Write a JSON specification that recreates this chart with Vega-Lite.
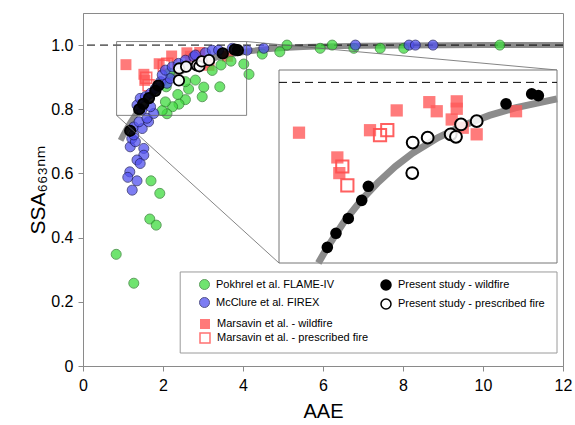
{
"$schema": "https://vega.github.io/schema/vega-lite/v6.json",
"width": 480,
"height": 353,
"autosize": {"type": "none"},
"padding": {"left": 83, "top": 13, "right": 12, "bottom": 59},
"background": "white",
"config": {
  "font": "Liberation Sans",
  "view": {"stroke": "#8a8a8a", "strokeWidth": 1},
  "axis": {"domainColor": "#8a8a8a", "tickColor": "#8a8a8a", "tickSize": 5, "labelColor": "black", "titleColor": "black", "labelFont": "Liberation Sans", "titleFont": "Liberation Sans, DejaVu Sans", "labelFontSize": 16, "titleFontSize": 20, "titleFontWeight": "normal", "grid": false, "labelFlush": false, "labelOverlap": false}
},
"datasets": {
  "pts": [
    {"src":"Pokhrel et al. FLAME-IV","aae":5.10,"ssa":1.0},
    {"src":"Pokhrel et al. FLAME-IV","aae":5.93,"ssa":0.99},
    {"src":"Pokhrel et al. FLAME-IV","aae":6.23,"ssa":1.0},
    {"src":"Pokhrel et al. FLAME-IV","aae":6.77,"ssa":0.99},
    {"src":"Pokhrel et al. FLAME-IV","aae":7.43,"ssa":0.99},
    {"src":"Pokhrel et al. FLAME-IV","aae":8.02,"ssa":0.99},
    {"src":"Pokhrel et al. FLAME-IV","aae":10.42,"ssa":1.0},
    {"src":"Pokhrel et al. FLAME-IV","aae":4.92,"ssa":0.979},
    {"src":"Pokhrel et al. FLAME-IV","aae":4.48,"ssa":0.972},
    {"src":"Pokhrel et al. FLAME-IV","aae":4.02,"ssa":0.941},
    {"src":"Pokhrel et al. FLAME-IV","aae":4.15,"ssa":0.909},
    {"src":"Pokhrel et al. FLAME-IV","aae":3.70,"ssa":0.950},
    {"src":"Pokhrel et al. FLAME-IV","aae":3.45,"ssa":0.938},
    {"src":"Pokhrel et al. FLAME-IV","aae":3.23,"ssa":0.921},
    {"src":"Pokhrel et al. FLAME-IV","aae":3.42,"ssa":0.870},
    {"src":"Pokhrel et al. FLAME-IV","aae":3.02,"ssa":0.869},
    {"src":"Pokhrel et al. FLAME-IV","aae":2.98,"ssa":0.839},
    {"src":"Pokhrel et al. FLAME-IV","aae":2.81,"ssa":0.891},
    {"src":"Pokhrel et al. FLAME-IV","aae":2.64,"ssa":0.863},
    {"src":"Pokhrel et al. FLAME-IV","aae":2.56,"ssa":0.830},
    {"src":"Pokhrel et al. FLAME-IV","aae":2.56,"ssa":0.886},
    {"src":"Pokhrel et al. FLAME-IV","aae":2.37,"ssa":0.846},
    {"src":"Pokhrel et al. FLAME-IV","aae":2.40,"ssa":0.816},
    {"src":"Pokhrel et al. FLAME-IV","aae":2.24,"ssa":0.808},
    {"src":"Pokhrel et al. FLAME-IV","aae":2.10,"ssa":0.786},
    {"src":"Pokhrel et al. FLAME-IV","aae":1.98,"ssa":0.796},
    {"src":"Pokhrel et al. FLAME-IV","aae":2.06,"ssa":0.823},
    {"src":"Pokhrel et al. FLAME-IV","aae":2.16,"ssa":0.913},
    {"src":"Pokhrel et al. FLAME-IV","aae":2.08,"ssa":0.870},
    {"src":"Pokhrel et al. FLAME-IV","aae":1.70,"ssa":0.577},
    {"src":"Pokhrel et al. FLAME-IV","aae":1.92,"ssa":0.538},
    {"src":"Pokhrel et al. FLAME-IV","aae":1.67,"ssa":0.458},
    {"src":"Pokhrel et al. FLAME-IV","aae":1.83,"ssa":0.439},
    {"src":"Pokhrel et al. FLAME-IV","aae":0.83,"ssa":0.348},
    {"src":"Pokhrel et al. FLAME-IV","aae":1.27,"ssa":0.258},
    {"src":"McClure et al. FIREX","aae":1.18,"ssa":0.683},
    {"src":"McClure et al. FIREX","aae":1.52,"ssa":0.678},
    {"src":"McClure et al. FIREX","aae":1.52,"ssa":0.657},
    {"src":"McClure et al. FIREX","aae":1.35,"ssa":0.642},
    {"src":"McClure et al. FIREX","aae":1.43,"ssa":0.631},
    {"src":"McClure et al. FIREX","aae":1.17,"ssa":0.605},
    {"src":"McClure et al. FIREX","aae":1.12,"ssa":0.588},
    {"src":"McClure et al. FIREX","aae":1.35,"ssa":0.577},
    {"src":"McClure et al. FIREX","aae":1.23,"ssa":0.548},
    {"src":"McClure et al. FIREX","aae":1.22,"ssa":0.709},
    {"src":"McClure et al. FIREX","aae":1.31,"ssa":0.699},
    {"src":"McClure et al. FIREX","aae":1.27,"ssa":0.720},
    {"src":"McClure et al. FIREX","aae":1.27,"ssa":0.745},
    {"src":"McClure et al. FIREX","aae":1.48,"ssa":0.740},
    {"src":"McClure et al. FIREX","aae":1.40,"ssa":0.761},
    {"src":"McClure et al. FIREX","aae":1.64,"ssa":0.761},
    {"src":"McClure et al. FIREX","aae":1.60,"ssa":0.772},
    {"src":"McClure et al. FIREX","aae":1.77,"ssa":0.787},
    {"src":"McClure et al. FIREX","aae":1.47,"ssa":0.798},
    {"src":"McClure et al. FIREX","aae":1.69,"ssa":0.808},
    {"src":"McClure et al. FIREX","aae":1.35,"ssa":0.813},
    {"src":"McClure et al. FIREX","aae":1.43,"ssa":0.834},
    {"src":"McClure et al. FIREX","aae":1.56,"ssa":0.839},
    {"src":"McClure et al. FIREX","aae":1.69,"ssa":0.850},
    {"src":"McClure et al. FIREX","aae":1.81,"ssa":0.865},
    {"src":"McClure et al. FIREX","aae":1.94,"ssa":0.886},
    {"src":"McClure et al. FIREX","aae":2.10,"ssa":0.881},
    {"src":"McClure et al. FIREX","aae":2.18,"ssa":0.896},
    {"src":"McClure et al. FIREX","aae":1.98,"ssa":0.907},
    {"src":"McClure et al. FIREX","aae":2.06,"ssa":0.922},
    {"src":"McClure et al. FIREX","aae":2.23,"ssa":0.932},
    {"src":"McClure et al. FIREX","aae":2.39,"ssa":0.943},
    {"src":"McClure et al. FIREX","aae":2.56,"ssa":0.953},
    {"src":"McClure et al. FIREX","aae":2.77,"ssa":0.964},
    {"src":"McClure et al. FIREX","aae":2.81,"ssa":0.969},
    {"src":"McClure et al. FIREX","aae":3.06,"ssa":0.976},
    {"src":"McClure et al. FIREX","aae":3.23,"ssa":0.984},
    {"src":"McClure et al. FIREX","aae":3.39,"ssa":0.984},
    {"src":"McClure et al. FIREX","aae":3.73,"ssa":0.990},
    {"src":"McClure et al. FIREX","aae":4.10,"ssa":0.984},
    {"src":"McClure et al. FIREX","aae":4.52,"ssa":0.990},
    {"src":"McClure et al. FIREX","aae":6.81,"ssa":1.0},
    {"src":"McClure et al. FIREX","aae":8.15,"ssa":1.0},
    {"src":"McClure et al. FIREX","aae":8.31,"ssa":1.0},
    {"src":"McClure et al. FIREX","aae":8.75,"ssa":1.0},
    {"src":"Marsavin et al. - wildfire","aae":1.074,"ssa":0.939},
    {"src":"Marsavin et al. - wildfire","aae":2.216,"ssa":0.966},
    {"src":"Marsavin et al. - wildfire","aae":2.597,"ssa":0.976},
    {"src":"Marsavin et al. - wildfire","aae":2.684,"ssa":0.965},
    {"src":"Marsavin et al. - wildfire","aae":2.918,"ssa":0.977},
    {"src":"Marsavin et al. - wildfire","aae":2.918,"ssa":0.968},
    {"src":"Marsavin et al. - wildfire","aae":2.859,"ssa":0.955},
    {"src":"Marsavin et al. - wildfire","aae":2.988,"ssa":0.945},
    {"src":"Marsavin et al. - wildfire","aae":3.151,"ssa":0.937},
    {"src":"Marsavin et al. - wildfire","aae":3.611,"ssa":0.965},
    {"src":"Marsavin et al. - wildfire","aae":1.904,"ssa":0.942},
    {"src":"Marsavin et al. - wildfire","aae":1.522,"ssa":0.909},
    {"src":"Marsavin et al. - wildfire","aae":1.545,"ssa":0.890},
    {"src":"Marsavin et al. - prescribed fire","aae":2.106,"ssa":0.942},
    {"src":"Marsavin et al. - prescribed fire","aae":2.021,"ssa":0.936},
    {"src":"Marsavin et al. - prescribed fire","aae":1.580,"ssa":0.898},
    {"src":"Marsavin et al. - prescribed fire","aae":1.639,"ssa":0.875},
    {"src":"Present study - wildfire","aae":1.18,"ssa":0.733},
    {"src":"Present study - wildfire","aae":1.405,"ssa":0.800},
    {"src":"Present study - wildfire","aae":1.506,"ssa":0.817},
    {"src":"Present study - wildfire","aae":1.650,"ssa":0.835},
    {"src":"Present study - wildfire","aae":1.807,"ssa":0.857},
    {"src":"Present study - wildfire","aae":1.884,"ssa":0.874},
    {"src":"Present study - wildfire","aae":3.494,"ssa":0.974},
    {"src":"Present study - wildfire","aae":3.794,"ssa":0.986},
    {"src":"Present study - wildfire","aae":3.872,"ssa":0.984},
    {"src":"Present study - prescribed fire","aae":2.403,"ssa":0.927},
    {"src":"Present study - prescribed fire","aae":2.398,"ssa":0.890},
    {"src":"Present study - prescribed fire","aae":2.578,"ssa":0.933},
    {"src":"Present study - prescribed fire","aae":2.847,"ssa":0.937},
    {"src":"Present study - prescribed fire","aae":2.909,"ssa":0.934},
    {"src":"Present study - prescribed fire","aae":2.968,"ssa":0.949},
    {"src":"Present study - prescribed fire","aae":3.151,"ssa":0.953}
  ],
  "fit": [
    {"aae":0.94,"ssa":0.703},{"aae":1.0,"ssa":0.718},{"aae":1.1,"ssa":0.741},{"aae":1.2,"ssa":0.762},
    {"aae":1.3,"ssa":0.781},{"aae":1.4,"ssa":0.799},{"aae":1.6,"ssa":0.831},{"aae":1.8,"ssa":0.857},
    {"aae":2.0,"ssa":0.879},{"aae":2.2,"ssa":0.898},{"aae":2.4,"ssa":0.914},{"aae":2.7,"ssa":0.933},
    {"aae":3.0,"ssa":0.948},{"aae":3.3,"ssa":0.960},{"aae":3.6,"ssa":0.969},{"aae":4.09,"ssa":0.980},
    {"aae":4.5,"ssa":0.986},{"aae":5.0,"ssa":0.991},{"aae":5.5,"ssa":0.994},{"aae":6.0,"ssa":0.996},
    {"aae":7.0,"ssa":0.998},{"aae":8.0,"ssa":0.999},{"aae":10.0,"ssa":1.0},{"aae":12.0,"ssa":1.0}
  ]
},
"resolve": {"scale": {"x": "independent", "y": "independent"}},
"layer": [
  {
    "resolve": {"scale": {"fill": "independent", "stroke": "independent"}},
    "layer": [
      {
        "data": {"name": "fit"},
        "mark": {"type": "line", "stroke": "#8c8c8c", "strokeWidth": 6},
        "encoding": {
          "x": {"field": "aae", "type": "quantitative", "scale": {"domain": [0, 12], "nice": false, "zero": false},
                "axis": {"title": "AAE", "values": [0,1,2,3,4,5,6,7,8,9,10,11,12], "labelExpr": "datum.value % 2 == 0 ? datum.label : ''", "labelPadding": 6, "titlePadding": 8}},
          "y": {"field": "ssa", "type": "quantitative", "scale": {"domain": [0, 1.1], "nice": false, "zero": false},
                "axis": {"title": "SSA₆₆₃ₙₘ", "titleFontSize": 21, "values": [0,0.1,0.2,0.3,0.4,0.5,0.6,0.7,0.8,0.9,1.0], "labelExpr": "round(datum.value * 10) % 2 == 1 ? '' : (datum.value == 0 ? '0' : format(datum.value, '.1f'))", "labelPadding": 5, "titlePadding": 2}}
        }
      },
      {
        "data": {"values": [{}]},
        "mark": {"type": "rule", "color": "black", "strokeWidth": 1, "strokeDash": [8, 5]},
        "encoding": {"y": {"datum": 1}}
      },
      {
        "data": {"name": "pts"},
        "transform": [{"filter": {"field": "src", "oneOf": ["Marsavin et al. - wildfire", "Marsavin et al. - prescribed fire"]}}],
        "mark": {"type": "square", "size": 120, "opacity": 0.8, "strokeWidth": 1.6},
        "encoding": {
          "x": {"field": "aae", "type": "quantitative"},
          "y": {"field": "ssa", "type": "quantitative"},
          "fill": {"field": "src", "type": "nominal",
                   "scale": {"domain": ["Marsavin et al. - wildfire", "Marsavin et al. - prescribed fire"], "range": ["#ff5a5a", "transparent"]},
                   "legend": {"orient": "none", "legendX": 116, "legendY": 305, "title": null, "direction": "vertical", "labelFont": "Liberation Sans", "labelFontSize": 11, "symbolSize": 100, "symbolStrokeWidth": 1.5, "labelOffset": 6, "rowPadding": -3, "padding": 0}},
          "stroke": {"field": "src", "type": "nominal",
                   "scale": {"domain": ["Marsavin et al. - wildfire", "Marsavin et al. - prescribed fire"], "range": ["transparent", "#ff4f4f"]},
                   "legend": {"orient": "none", "legendX": 116, "legendY": 305, "title": null, "direction": "vertical", "labelFont": "Liberation Sans", "labelFontSize": 11, "symbolSize": 100, "symbolStrokeWidth": 1.5, "labelOffset": 6, "rowPadding": -3, "padding": 0}}
        }
      },
      {
        "data": {"name": "pts"},
        "transform": [{"filter": {"field": "src", "oneOf": ["Pokhrel et al. FLAME-IV", "McClure et al. FIREX"]}}],
        "mark": {"type": "circle", "size": 100, "opacity": 0.75, "strokeWidth": 1},
        "encoding": {
          "x": {"field": "aae", "type": "quantitative"},
          "y": {"field": "ssa", "type": "quantitative"},
          "fill": {"field": "src", "type": "nominal",
                   "scale": {"domain": ["Pokhrel et al. FLAME-IV", "McClure et al. FIREX"], "range": ["#3fdc3f", "#5252f0"]},
                   "legend": {"orient": "none", "legendX": 116, "legendY": 266, "title": null, "direction": "vertical", "labelFont": "Liberation Sans", "labelFontSize": 11, "symbolSize": 100, "symbolStrokeWidth": 1, "labelOffset": 6, "rowPadding": 3, "padding": 0}},
          "stroke": {"field": "src", "type": "nominal",
                   "scale": {"domain": ["Pokhrel et al. FLAME-IV", "McClure et al. FIREX"], "range": ["#2a7f2a", "#1c1c60"]},
                   "legend": {"orient": "none", "legendX": 116, "legendY": 266, "title": null, "direction": "vertical", "labelFont": "Liberation Sans", "labelFontSize": 11, "symbolSize": 100, "symbolStrokeWidth": 1, "labelOffset": 6, "rowPadding": 3, "padding": 0}}
        }
      },
      {
        "data": {"name": "pts"},
        "transform": [{"filter": {"field": "src", "oneOf": ["Present study - wildfire", "Present study - prescribed fire"]}}],
        "mark": {"type": "circle", "size": 110, "opacity": 1, "fillOpacity": 0.9, "strokeWidth": 1.8},
        "encoding": {
          "x": {"field": "aae", "type": "quantitative"},
          "y": {"field": "ssa", "type": "quantitative"},
          "fill": {"field": "src", "type": "nominal",
                   "scale": {"domain": ["Present study - wildfire", "Present study - prescribed fire"], "range": ["black", "white"]},
                   "legend": {"orient": "none", "legendX": 297, "legendY": 266, "title": null, "direction": "vertical", "labelFont": "Liberation Sans", "labelFontSize": 11, "symbolSize": 100, "symbolStrokeWidth": 1.5, "labelOffset": 6, "rowPadding": 3, "padding": 0}},
          "stroke": {"field": "src", "type": "nominal",
                   "scale": {"domain": ["Present study - wildfire", "Present study - prescribed fire"], "range": ["black", "black"]},
                   "legend": {"orient": "none", "legendX": 297, "legendY": 266, "title": null, "direction": "vertical", "labelFont": "Liberation Sans", "labelFontSize": 11, "symbolSize": 100, "symbolStrokeWidth": 1.5, "labelOffset": 6, "rowPadding": 3, "padding": 0}}
        }
      },
      {
        "data": {"values": [{}]},
        "mark": {"type": "rect", "fill": "transparent", "stroke": "#666666", "strokeWidth": 0.8},
        "encoding": {"x": {"datum": 0.84}, "x2": {"datum": 4.09}, "y": {"datum": 0.781}, "y2": {"datum": 1.011}}
      },
      {
        "data": {"values": [{}]},
        "mark": {"type": "rule", "color": "#666666", "strokeWidth": 0.8},
        "encoding": {"x": {"datum": 4.09}, "y": {"datum": 1.011}, "x2": {"datum": 11.85}, "y2": {"datum": 0.9224}}
      },
      {
        "data": {"values": [{}]},
        "mark": {"type": "rule", "color": "#666666", "strokeWidth": 0.8},
        "encoding": {"x": {"datum": 0.84}, "y": {"datum": 0.781}, "x2": {"datum": 4.9}, "y2": {"datum": 0.321}}
      },
      {
        "data": {"values": [{}]},
        "mark": {"type": "rect", "fill": "white", "stroke": "#9a9a9a", "strokeWidth": 1},
        "encoding": {"x": {"datum": 2.43}, "x2": {"datum": 11.85}, "y": {"datum": 0.0405}, "y2": {"datum": 0.293}}
      }
    ]
  },
  {
    "layer": [
      {
        "data": {"values": [{}]},
        "mark": {"type": "rect", "fill": "white", "stroke": "#777777", "strokeWidth": 1},
        "encoding": {
          "x": {"datum": 0.84, "type": "quantitative", "scale": {"domain": [0.84, 4.09], "range": [196, 474], "nice": false, "zero": false}, "axis": null},
          "x2": {"datum": 4.09},
          "y": {"datum": 0.781, "type": "quantitative", "scale": {"domain": [0.781, 1.015], "range": [250, 57], "nice": false, "zero": false}, "axis": null},
          "y2": {"datum": 1.015}
        }
      },
      {
        "data": {"values": [{}]},
        "mark": {"type": "rule", "color": "black", "strokeWidth": 1, "strokeDash": [8, 5]},
        "encoding": {"x": {"datum": 0.84, "type": "quantitative", "axis": null}, "x2": {"datum": 4.09}, "y": {"datum": 1, "type": "quantitative", "axis": null}}
      },
      {
        "data": {"name": "fit"},
        "transform": [{"filter": "datum.aae >= 1.3 && datum.aae <= 4.09"}],
        "mark": {"type": "line", "stroke": "#8c8c8c", "strokeWidth": 7},
        "encoding": {"x": {"field": "aae", "type": "quantitative", "axis": null}, "y": {"field": "ssa", "type": "quantitative", "axis": null}}
      },
      {
        "data": {"name": "pts"},
        "transform": [{"filter": "datum.src == 'Marsavin et al. - wildfire' && datum.aae >= 0.84 && datum.aae <= 4.09 && datum.ssa >= 0.781"}],
        "mark": {"type": "square", "size": 150, "fill": "#ff5a5a", "opacity": 0.8},
        "encoding": {"x": {"field": "aae", "type": "quantitative", "axis": null}, "y": {"field": "ssa", "type": "quantitative", "axis": null}}
      },
      {
        "data": {"name": "pts"},
        "transform": [{"filter": "datum.src == 'Marsavin et al. - prescribed fire' && datum.aae >= 0.84 && datum.aae <= 4.09 && datum.ssa >= 0.781"}],
        "mark": {"type": "square", "size": 150, "fill": "transparent", "stroke": "#ff4f4f", "strokeWidth": 2, "opacity": 0.9},
        "encoding": {"x": {"field": "aae", "type": "quantitative", "axis": null}, "y": {"field": "ssa", "type": "quantitative", "axis": null}}
      },
      {
        "data": {"name": "pts"},
        "transform": [{"filter": "datum.src == 'Present study - wildfire' && datum.aae >= 0.84 && datum.aae <= 4.09 && datum.ssa >= 0.781"}],
        "mark": {"type": "circle", "size": 135, "fill": "black", "opacity": 1},
        "encoding": {"x": {"field": "aae", "type": "quantitative", "axis": null}, "y": {"field": "ssa", "type": "quantitative", "axis": null}}
      },
      {
        "data": {"name": "pts"},
        "transform": [{"filter": "datum.src == 'Present study - prescribed fire' && datum.aae >= 0.84 && datum.aae <= 4.09 && datum.ssa >= 0.781"}],
        "mark": {"type": "circle", "size": 140, "fill": "white", "fillOpacity": 0.85, "stroke": "black", "strokeWidth": 2, "opacity": 1},
        "encoding": {"x": {"field": "aae", "type": "quantitative", "axis": null}, "y": {"field": "ssa", "type": "quantitative", "axis": null}}
      }
    ]
  }
]
}
